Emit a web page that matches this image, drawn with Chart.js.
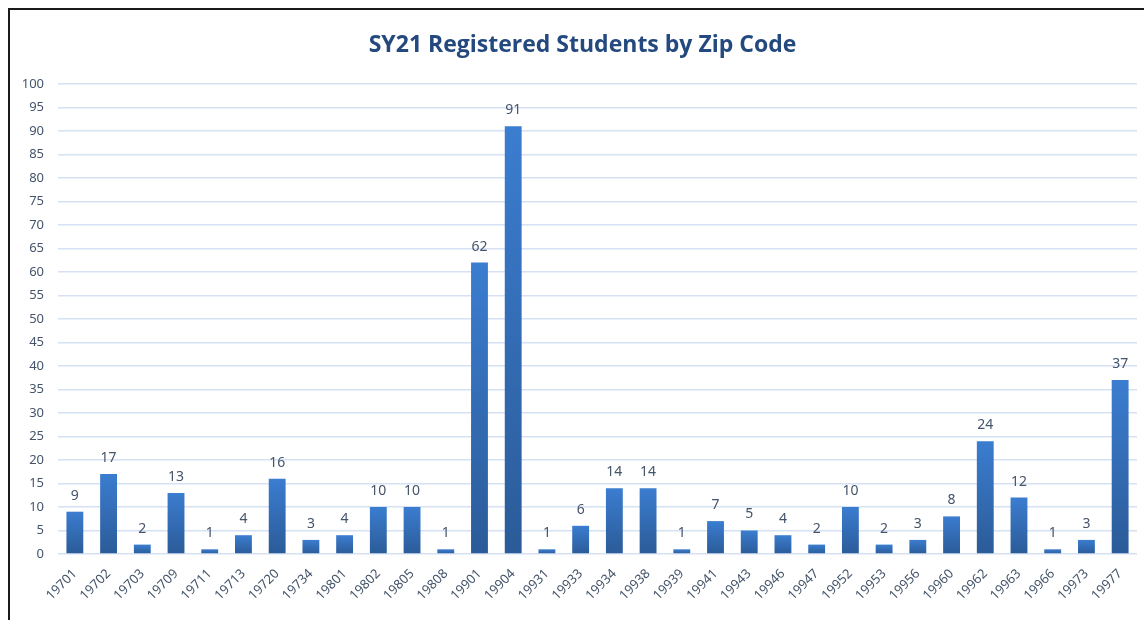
<!DOCTYPE html>
<html>
<head>
<meta charset="utf-8">
<script src="https://cdn.jsdelivr.net/npm/chart.js@4"></script>
<style>
  html, body { margin: 0; padding: 0; background: #fff; }
  #wrap { position: relative; width: 1144px; height: 620px; overflow: hidden; }
  #frame { position: absolute; left: 8px; top: 8px; width: 1200px; height: 700px; border: 2px solid #1a1a1a; pointer-events: none; }
</style>
</head>
<body>
<div id="wrap">
  <canvas id="my-chart" width="1144" height="620"></canvas>
  <div id="frame"></div>
</div>
<script>
// zip codes and counts
const zipCodes = ['19701','19702','19703','19709','19711','19713','19720','19734','19801','19802',
  '19805','19808','19901','19904','19931','19933','19934','19938','19939','19941',
  '19943','19946','19947','19952','19953','19956','19960','19962','19963','19966',
  '19973','19977']
const students = [9,17,2,13,1,4,16,3,4,10,
  10,1,62,91,1,6,14,14,1,7,
  5,4,2,10,2,3,8,24,12,1,
  3,37]
const yTicks = [0,5,10,15,20,25,30,35,40,45,50,55,60,65,70,75,80,85,90,95,100]
const chartTitle = 'SY21 Registered Students by Zip Code'

const textColor = '#44546a'
const tickFont = { family: 'Noto Sans', size: 13 }

//gradient per bar, lighter at top
function barColor(context){
  const chart = context.chart
  const yScale = chart.scales.y
  if (!chart.chartArea || !yScale) return '#3572c0'
  const v = context.raw
  const top = yScale.getPixelForValue(v)
  const bottom = yScale.getPixelForValue(0)
  if (!isFinite(top) || bottom - top < 1) return '#3572c0'
  const g = chart.ctx.createLinearGradient(0, top, 0, bottom)
  g.addColorStop(0, '#3b7dd0')
  g.addColorStop(1, '#2b5b98')
  return g
}

//value labels above bars + title (sits a little left of the plot centre)
const valueLabels = {
  id: 'valueLabels',
  afterDatasetsDraw(chart){
    const ctx = chart.ctx
    const meta = chart.getDatasetMeta(0)
    ctx.save()
    ctx.font = '14px "Noto Sans"'
    ctx.fillStyle = textColor
    ctx.textAlign = 'center'
    ctx.textBaseline = 'bottom'
    meta.data.forEach((bar, i) => {
      ctx.fillText(String(students[i]), bar.x, bar.y - 9)
    })
    ctx.font = 'bold 23px "Open Sans"'
    ctx.fillStyle = '#24497f'
    ctx.textBaseline = 'middle'
    ctx.fillText(chartTitle, (chart.chartArea.left + chart.chartArea.right) / 2 - 15, 45)
    ctx.restore()
  }
}

let ctx = document.getElementById('my-chart').getContext('2d')
let chart = new Chart(ctx, {
  type: 'bar',
  data: {
    labels: zipCodes,
    datasets: [{
      data: students,
      backgroundColor: barColor,
      borderWidth: 0,
      barPercentage: 0.5,
      categoryPercentage: 1
    }]
  },
  options: {
    responsive: false,
    animation: false,
    layout: { padding: { left: 0, right: 7, top: 84, bottom: 0 } },
    plugins: {
      legend: { display: false },
      tooltip: { enabled: false },
      title: { display: false }
    },
    scales: {
      x: {
        grid: { display: false },
        border: { display: false },
        ticks: {
          color: textColor,
          font: tickFont,
          minRotation: 45,
          maxRotation: 45,
          autoSkip: false,
          padding: 4
        },
        afterFit(scale){ scale.height = 66 }
      },
      y: {
        min: 0,
        max: 100,
        afterBuildTicks(scale){ scale.ticks = yTicks.map(v => ({ value: v })) },
        grid: { color: '#d6e2f3', lineWidth: 1.5, drawTicks: false },
        border: { display: false },
        ticks: {
          color: textColor,
          font: tickFont,
          padding: 14
        },
        afterFit(scale){ scale.width = 58 }
      }
    }
  },
  plugins: [valueLabels]
})
</script>
</body>
</html>
